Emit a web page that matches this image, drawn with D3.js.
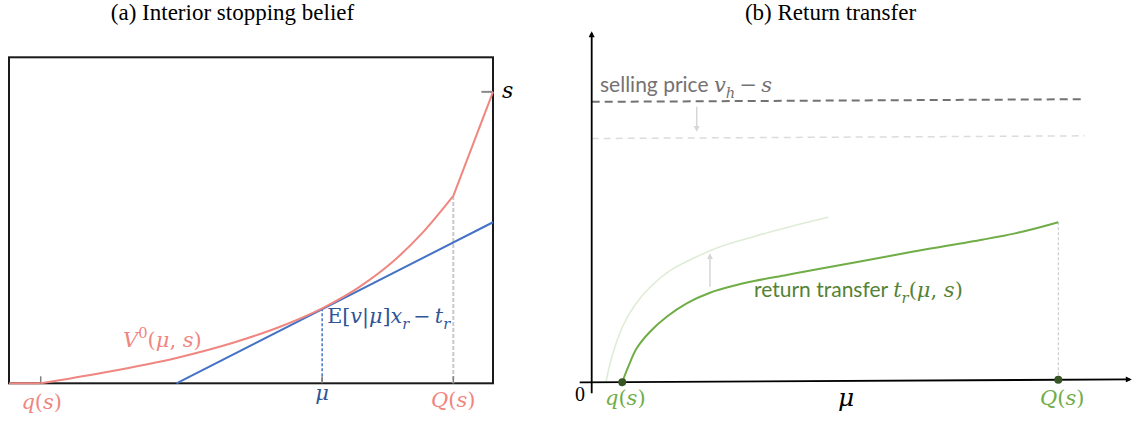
<!DOCTYPE html>
<html><head><meta charset="utf-8">
<script src="https://cdn.jsdelivr.net/npm/d3@7"></script>
<style>body{margin:0;background:#fff}svg{display:block}</style>
</head><body>
<svg id="c" width="1133" height="423"></svg>
<script>
// ---------- data (panel a) ----------
const leftMu  = [0, 0.0655, 0.188, 0.346,  0.463,  0.560,  0.647, 0.725,  0.794,  0.856,  0.918,  1.0];
const leftV0  = [0, 0,      0.031, 0.0779, 0.1245, 0.1736, 0.230, 0.2966, 0.3742, 0.4644, 0.5748, 0.894];
const tangentMu  = [0.346, 1.0];
const tangentVal = [0, 0.494];
const leftTickMu = [0.0655, 0.647, 0.918];          // q(s), mu, Q(s)
const leftTickLabels = ["q(s)", "μ", "Q(s)"];
const sLevel = [0.976, 1.0];                          // short tick at level s

// ---------- data (panel b) ----------
const rMu    = [0.0565, 0.0676, 0.0831, 0.1077, 0.1386, 0.1755, 0.2185, 0.2679, 0.3004, 0.3602, 0.4218, 0.4957, 0.6004, 0.7234, 0.7973, 0.8620];
const rT     = [0,      0.0437, 0.0958, 0.1427, 0.1850, 0.2228, 0.2525, 0.2740, 0.2850, 0.3016, 0.3187, 0.3388, 0.3677, 0.3993, 0.4214, 0.4470];
const rMuOld = [0.0264, 0.0325, 0.0430, 0.0584, 0.0800, 0.1077, 0.1446, 0.1877, 0.2370, 0.2985, 0.3663, 0.4371];
const rTOld  = [0,      0.0440, 0.1007, 0.1622, 0.2188, 0.2688, 0.3156, 0.3504, 0.3829, 0.4108, 0.4386, 0.4647];
const priceLevels = [0.796, 0.692];                   // selling price, lowered price
const priceEndMu = 0.911;
const arrowDownMu = 0.194, arrowDownFromTo = [0.7807, 0.7145];
const arrowUpMu = 0.2185,  arrowUpFromTo = [0.2695, 0.3595];
const rightTickLabels = ["q(s)", "Q(s)"];

const svg = d3.select("#c");
const MATH = "'DejaVu Serif', serif";
const SERIF = "'Liberation Serif', 'Times New Roman', serif";
const SANS = "Lato, 'Open Sans', sans-serif";

function mathText(g, x, y, parts, o) {
  const size = o.size;
  const t = g.append("text").attr("x", x).attr("y", y)
    .attr("font-size", size).attr("fill", o.color)
    .attr("font-family", o.family || MATH)
    .attr("text-anchor", o.anchor || "start");
  let shift = 0;
  parts.forEach(p => {
    const ts = t.append("tspan").text(p.t);
    let target = 0;
    if (p.sub) { target = size * 0.28; ts.attr("font-size", size * 0.7); }
    if (p.sup) { target = -size * 0.42; ts.attr("font-size", size * 0.7); }
    ts.attr("dy", target - shift); shift = target;
    if (p.i) ts.attr("font-style", "italic");
    if (p.f) ts.attr("font-family", p.f);
  });
  if (o.len) t.attr("textLength", o.len).attr("lengthAdjust", "spacingAndGlyphs");
  return t;
}

const defs = svg.append("defs");
function marker(id, color, w, h) {
  defs.append("marker").attr("id", id).attr("viewBox", "0 0 10 10")
    .attr("refX", 7).attr("refY", 5).attr("markerUnits", "userSpaceOnUse")
    .attr("markerWidth", w).attr("markerHeight", h).attr("orient", "auto")
    .append("path").attr("d", "M0,0L10,5L0,10z").attr("fill", color);
}
marker("ahBlack", "#000", 7, 6);
marker("ahGray", "#D6D6D6", 6, 6);

// ================= panel (a) =================
const lx = d3.scaleLinear().domain([0, 1]).range([9, 493]);
const ly = d3.scaleLinear().domain([0, 1]).range([383.3, 57.3]);
const ga = svg.append("g");

ga.append("text").attr("x", 232.5).attr("y", 20).attr("text-anchor", "middle")
  .attr("font-family", SERIF).attr("font-size", 23).attr("fill", "#000")
  .text("(a) Interior stopping belief");

ga.append("rect").attr("x", lx(0)).attr("y", ly(1)).attr("width", lx(1) - lx(0))
  .attr("height", ly(0) - ly(1)).attr("fill", "none").attr("stroke", "#1a1a1a").attr("stroke-width", 2);

// vertical guides
const iQ = leftMu.indexOf(leftTickMu[2]);
ga.append("line").attr("x1", lx(leftTickMu[2])).attr("x2", lx(leftTickMu[2]))
  .attr("y1", ly(leftV0[iQ])).attr("y2", ly(0))
  .attr("stroke", "#C8C8C8").attr("stroke-width", 2).attr("stroke-dasharray", "4,2");
const iM = leftMu.indexOf(leftTickMu[1]);
ga.append("line").attr("x1", lx(leftTickMu[1])).attr("x2", lx(leftTickMu[1]))
  .attr("y1", ly(leftV0[iM])).attr("y2", ly(0))
  .attr("stroke", "#4472C4").attr("stroke-width", 1.5).attr("stroke-dasharray", "3,2");

// ticks
leftTickMu.forEach(m => {
  ga.append("line").attr("x1", lx(m)).attr("x2", lx(m)).attr("y1", ly(0)).attr("y2", ly(0) - 7)
    .attr("stroke", "#7f7f7f").attr("stroke-width", 1.5);
});
ga.append("line").attr("x1", lx(sLevel[0])).attr("x2", lx(sLevel[1]))
  .attr("y1", ly(leftV0[leftV0.length - 1])).attr("y2", ly(leftV0[leftV0.length - 1]))
  .attr("stroke", "#8a8a8a").attr("stroke-width", 2);

// tangent line
const pts = leftMu.map((m, i) => [m, leftV0[i]]);
ga.append("path").datum(tangentMu.map((m, i) => [m, tangentVal[i]]))
  .attr("d", d3.line().x(d => lx(d[0])).y(d => ly(d[1])))
  .attr("fill", "none").attr("stroke", "#4472C4").attr("stroke-width", 2);

// V0 curve: flat, smooth convex part, linear top segment
const lineLin = d3.line().x(d => lx(d[0])).y(d => ly(d[1]));
const lineSm = d3.line().x(d => lx(d[0])).y(d => ly(d[1])).curve(d3.curveMonotoneX);
const iq = leftMu.indexOf(leftTickMu[0]);
[[lineLin, pts.slice(0, iq + 1)], [lineSm, pts.slice(iq, iQ + 1)], [lineLin, pts.slice(iQ)]].forEach(([gen, d]) => {
  ga.append("path").datum(d).attr("d", gen).attr("fill", "none")
    .attr("stroke", "#EF8680").attr("stroke-width", 2).attr("stroke-linejoin", "round");
});

// labels panel a
const RED = "#EF8680", DBLUE = "#2F5597";
mathText(ga, lx(leftTickMu[0]) + 1, 409, [{t: "q", i: 1}, {t: "("}, {t: "s", i: 1}, {t: ")"}], {size: 21, color: RED, anchor: "middle"});
mathText(ga, lx(leftTickMu[1]), 400, [{t: "μ", i: 1}], {size: 21, color: DBLUE, anchor: "middle"});
mathText(ga, lx(leftTickMu[2]), 407, [{t: "Q", i: 1}, {t: "("}, {t: "s", i: 1}, {t: ")"}], {size: 21, color: RED, anchor: "middle"});
mathText(ga, lx(1) + 9, 98, [{t: "s", i: 1}], {size: 22, color: "#000"});
mathText(ga, 123, 347, [{t: "V", i: 1}, {t: "0", sup: 1}, {t: "("}, {t: "μ", i: 1}, {t: ", "}, {t: "s", i: 1}, {t: ")"}], {size: 21, color: RED});
mathText(ga, lx(leftTickMu[1]) + 5, 323, [{t: "E"}, {t: "["}, {t: "v", i: 1}, {t: "|"}, {t: "μ", i: 1}, {t: "]"}, {t: "x", i: 1}, {t: "r", i: 1, sub: 1}, {t: "\u2009−\u2009"}, {t: "t", i: 1}, {t: "r", i: 1, sub: 1}], {size: 20, color: DBLUE, len: 123});

// ================= panel (b) =================
const rx = d3.scaleLinear().domain([0, 1]).range([591.7, 1133]);
const ry = d3.scaleLinear().domain([0, 1]).range([382.3, 30]);
const ox = rx(0), oy = ry(0);
const gb = svg.append("g");
gb.append("text").attr("x", 830.5).attr("y", 20).attr("text-anchor", "middle")
  .attr("font-family", SERIF).attr("font-size", 23).attr("fill", "#000")
  .text("(b) Return transfer");

// marks group with slight skew (horizontal lines tilt upward to the right)
const gm = gb.append("g").attr("transform", `translate(${ox},${oy}) skewY(-0.31) translate(${-ox},${-oy})`);

// price lines
gm.append("line").attr("x1", rx(0)).attr("x2", rx(priceEndMu)).attr("y1", ry(priceLevels[1])).attr("y2", ry(priceLevels[1]))
  .attr("stroke", "#DCDCDC").attr("stroke-width", 1.5).attr("stroke-dasharray", "7,5");
gm.append("line").attr("x1", rx(0)).attr("x2", rx(priceEndMu)).attr("y1", ry(priceLevels[0])).attr("y2", ry(priceLevels[0]))
  .attr("stroke", "#767171").attr("stroke-width", 2).attr("stroke-dasharray", "8,5");

// small arrows
gm.append("line").attr("x1", rx(arrowDownMu)).attr("x2", rx(arrowDownMu))
  .attr("y1", ry(arrowDownFromTo[0])).attr("y2", ry(arrowDownFromTo[1]))
  .attr("stroke", "#D6D6D6").attr("stroke-width", 1.5).attr("marker-end", "url(#ahGray)");
gm.append("line").attr("x1", rx(arrowUpMu)).attr("x2", rx(arrowUpMu))
  .attr("y1", ry(arrowUpFromTo[0])).attr("y2", ry(arrowUpFromTo[1]))
  .attr("stroke", "#D6D6D6").attr("stroke-width", 1.5).attr("marker-end", "url(#ahGray)");

// curves
const rline = d3.line().x(d => rx(d[0])).y(d => ry(d[1])).curve(d3.curveCatmullRom.alpha(0.5));
gm.append("path").datum(rMuOld.map((m, i) => [m, rTOld[i]])).attr("d", rline)
  .attr("fill", "none").attr("stroke", "#DFECD6").attr("stroke-width", 1.6);
const last = rMu.length - 1;
gm.append("line").attr("x1", rx(rMu[last])).attr("x2", rx(rMu[last]))
  .attr("y1", ry(rT[last])).attr("y2", ry(0))
  .attr("stroke", "#C4C4C4").attr("stroke-width", 1).attr("stroke-dasharray", "3,2");
gm.append("path").datum(rMu.map((m, i) => [m, rT[i]])).attr("d", rline)
  .attr("fill", "none").attr("stroke", "#70AD47").attr("stroke-width", 2);

// axes
gm.append("line").attr("x1", rx(0) - 12).attr("x2", 1130).attr("y1", ry(0)).attr("y2", ry(0))
  .attr("stroke", "#000").attr("stroke-width", 1.8).attr("marker-end", "url(#ahBlack)");
gm.append("line").attr("x1", rx(0)).attr("x2", rx(0)).attr("y1", ry(0) + 11).attr("y2", ry(1) + 3)
  .attr("stroke", "#000").attr("stroke-width", 1.8).attr("marker-end", "url(#ahBlack)");

// dots
[rMu[0], rMu[last]].forEach(m => {
  gm.append("circle").attr("cx", rx(m)).attr("cy", ry(0)).attr("r", 4).attr("fill", "#375623");
});

// labels panel b
gb.append("text").attr("x", 580).attr("y", 401).attr("text-anchor", "middle")
  .attr("font-family", SERIF).attr("font-size", 20).attr("fill", "#000").text("0");
mathText(gb, rx(rMu[0]) + 3, 405, [{t: "q", i: 1}, {t: "("}, {t: "s", i: 1}, {t: ")"}], {size: 21, color: "#70AD47", anchor: "middle"});
mathText(gb, rx(rMu[last]) + 4, 405, [{t: "Q", i: 1}, {t: "("}, {t: "s", i: 1}, {t: ")"}], {size: 21, color: "#70AD47", anchor: "middle"});
mathText(gb, 846, 406, [{t: "μ", i: 1}], {size: 25, color: "#000", anchor: "middle"});
mathText(gb, 600, 92, [{t: "selling price ", f: SANS}, {t: "v", i: 1}, {t: "h", i: 1, sub: 1}, {t: "\u2009−\u2009"}, {t: "s", i: 1}], {size: 21, color: "#767171"});
mathText(gb, 754, 297, [{t: "return transfer ", f: SANS}, {t: "t", i: 1}, {t: "r", i: 1, sub: 1}, {t: "("}, {t: "μ", i: 1}, {t: ", "}, {t: "s", i: 1}, {t: ")"}], {size: 21, color: "#548235"});
</script>
</body></html>
